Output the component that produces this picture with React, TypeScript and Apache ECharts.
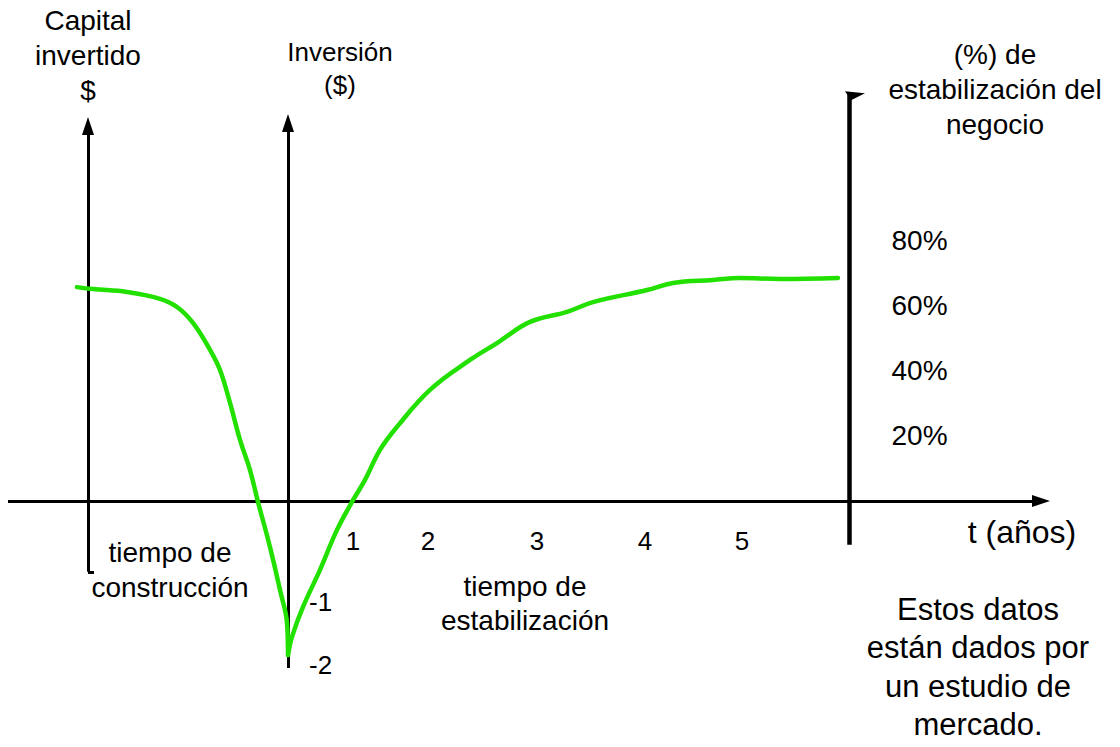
import React, { useEffect, useRef } from "react";
import * as echarts from "echarts";

// Curve during construction (x: time units, y: % scale)
const constructionCurve: [number, number][] = [
  [-2.11, 65.8], [-1.95, 65.2], [-1.61, 64.3], [-1.28, 62.2], [-1.11, 59.7],
  [-0.95, 54.8], [-0.78, 46.5], [-0.68, 40.3], [-0.58, 30.2], [-0.48, 18.8],
  [-0.38, 9.5], [-0.30, -0.3], [-0.18, -14.2], [-0.08, -27.4], [-0.01, -37.5],
  [0.0, -47.4],
];

// Curve during stabilization
const stabilizationCurve: [number, number][] = [
  [0.0, -47.4], [0.04, -41.8], [0.15, -32.6], [0.32, -21.2], [0.49, -8.9],
  [0.64, -0.3], [0.77, 6.5], [0.92, 15.7], [1.09, 22.8], [1.42, 34.2],
  [1.82, 43.4], [2.09, 48.6], [2.42, 55.1], [2.79, 58.2], [3.05, 61.2],
  [3.59, 64.9], [3.85, 67.1], [4.25, 68.0], [4.52, 68.6], [4.92, 68.3],
  [5.5, 68.6],
];

// x tick labels (years) and where they sit on the time scale
const xTickPositions = [0.65, 1.4, 2.49, 3.57, 4.54];
const xTickLabels = ["1", "2", "3", "4", "5"];

// percent axis ticks
const pctTickValues = [20, 40, 60, 80];

// investment axis ticks
const investTickValues = [-31.1, -50.5];
const investTickLabels = ["-1", "-2"];

// axes (drawn as lines in data coordinates)
const timeAxis: [number, number][] = [[-2.8, 0], [7.53, 0]];
const capitalAxis: [number, number][] = [[-2.0, -21.8], [-2.0, 115.4]];
const capitalFoot: [number, number][] = [[-2.0, -21.8], [-1.94, -21.8]];
const investAxis: [number, number][] = [[0.0, -51.4], [0.0, 116.3]];
const pctAxis: [number, number][] = [[5.615, -13.5], [5.615, 125.8]];

const X_MIN = -2.88;
const X_MAX = 8.32;
const Y_MIN = -75.7;
const Y_MAX = 154.15;

const FONT = "'Liberation Sans', Arial, sans-serif";
const GREEN = "#22e000";

export default function App() {
  const ref = useRef<HTMLDivElement>(null);

  useEffect(() => {
    if (!ref.current) return;
    const chart = echarts.init(ref.current, undefined, { renderer: "svg" });

    const arrowEnd = (p: [number, number]) => ({
      coord: p,
      symbol: "triangle",
      symbolSize: [12, 18],
    });
    const plain = (p: [number, number]) => ({ coord: p, symbol: "none" });

    const option: any = {
      animation: false,
      backgroundColor: "#ffffff",
      textStyle: { fontFamily: FONT, color: "#000" },
      grid: {
        left: 0,
        right: 0,
        top: 0,
        bottom: 0,
        containLabel: false,
        outerBoundsMode: "none",
      },
      xAxis: {
        type: "value",
        min: X_MIN,
        max: X_MAX,
        position: "bottom",
        offset: -246,
        axisLine: { show: false, onZero: false },
        axisTick: { show: false },
        splitLine: { show: false },
        axisLabel: {
          show: true,
          customValues: xTickPositions,
          formatter: (v: number) => {
            const i = xTickPositions.indexOf(v);
            return i >= 0 ? xTickLabels[i] : "";
          },
          margin: 27,
          fontSize: 26,
          color: "#000",
          fontFamily: FONT,
        },
      },
      yAxis: [
        {
          type: "value",
          min: Y_MIN,
          max: Y_MAX,
          position: "left",
          offset: -849.5,
          axisLine: { show: false, onZero: false },
          axisTick: { show: false },
          splitLine: { show: false },
          axisLabel: {
            show: true,
            inside: true,
            margin: 42,
            customValues: pctTickValues,
            formatter: "{value}%",
            fontSize: 28,
            color: "#000",
            fontFamily: FONT,
          },
        },
        {
          type: "value",
          min: Y_MIN,
          max: Y_MAX,
          position: "left",
          offset: -288,
          axisLine: { show: false, onZero: false },
          axisTick: { show: false },
          splitLine: { show: false },
          axisLabel: {
            show: true,
            inside: true,
            margin: 21,
            customValues: investTickValues,
            formatter: (v: number) => {
              const i = investTickValues.indexOf(v);
              return i >= 0 ? investTickLabels[i] : "";
            },
            fontSize: 26,
            color: "#000",
            fontFamily: FONT,
          },
        },
      ],
      series: [
        {
          type: "line",
          name: "axes",
          data: [],
          silent: true,
          markLine: {
            silent: true,
            symbol: ["none", "none"],
            label: { show: false },
            lineStyle: { color: "#000", width: 3, type: "solid" },
            emphasis: { disabled: true },
            data: [
              [plain(timeAxis[0]), arrowEnd(timeAxis[1])],
              [plain(capitalAxis[0]), arrowEnd(capitalAxis[1])],
              [plain(capitalFoot[0]), plain(capitalFoot[1])],
              [plain(investAxis[0]), arrowEnd(investAxis[1])],
              [
                { ...plain(pctAxis[0]), lineStyle: { width: 4.5 } },
                plain(pctAxis[1]),
              ],
            ],
          },
          markPoint: {
            silent: true,
            label: { show: false },
            data: [
              {
                coord: pctAxis[1],
                symbol: "path://M0,0L20,2L6,9Z",
                symbolSize: [20, 9],
                symbolOffset: [5.5, 3.5],
                itemStyle: { color: "#000" },
              },
            ],
          },
        },
        {
          type: "line",
          name: "construcción",
          data: constructionCurve,
          smooth: 0.4,
          showSymbol: false,
          symbol: "none",
          lineStyle: { color: GREEN, width: 4.5, cap: "round", join: "round" },
          silent: true,
          z: 5,
        },
        {
          type: "line",
          name: "estabilización",
          data: stabilizationCurve,
          smooth: 0.4,
          showSymbol: false,
          symbol: "none",
          lineStyle: { color: GREEN, width: 4.5, cap: "round", join: "round" },
          silent: true,
          z: 5,
        },
      ],
      graphic: [
        {
          type: "text",
          x: 88,
          y: 55,
          style: {
            text: "Capital\ninvertido\n$",
            align: "center",
            verticalAlign: "middle",
            fontSize: 28,
            lineHeight: 35,
            fontFamily: FONT,
            fill: "#000",
          },
        },
        {
          type: "text",
          x: 340,
          y: 68,
          style: {
            text: "Inversión\n($)",
            align: "center",
            verticalAlign: "middle",
            fontSize: 26,
            lineHeight: 33,
            fontFamily: FONT,
            fill: "#000",
          },
        },
        {
          type: "text",
          x: 995,
          y: 89,
          style: {
            text: "(%) de\nestabilización del\nnegocio",
            align: "center",
            verticalAlign: "middle",
            fontSize: 28,
            lineHeight: 35,
            fontFamily: FONT,
            fill: "#000",
          },
        },
        {
          type: "text",
          x: 170,
          y: 570,
          style: {
            text: "tiempo de\nconstrucción",
            align: "center",
            verticalAlign: "middle",
            fontSize: 28,
            lineHeight: 35,
            fontFamily: FONT,
            fill: "#000",
          },
        },
        {
          type: "text",
          x: 525,
          y: 603,
          style: {
            text: "tiempo de\nestabilización",
            align: "center",
            verticalAlign: "middle",
            fontSize: 28,
            lineHeight: 34,
            fontFamily: FONT,
            fill: "#000",
          },
        },
        {
          type: "text",
          x: 1022,
          y: 532,
          style: {
            text: "t (años)",
            align: "center",
            verticalAlign: "middle",
            fontSize: 32,
            fontFamily: FONT,
            fill: "#000",
          },
        },
        {
          type: "text",
          x: 978,
          y: 667,
          style: {
            text: "Estos datos\nestán dados por\nun estudio de\nmercado.",
            align: "center",
            verticalAlign: "middle",
            fontSize: 31,
            lineHeight: 38.5,
            fontFamily: FONT,
            fill: "#000",
          },
        },
      ],
    };

    chart.setOption(option);
    return () => chart.dispose();
  }, []);

  return (
    <div
      ref={ref}
      style={{
        position: "fixed",
        left: 0,
        top: 0,
        width: 1120,
        height: 747,
        background: "#fff",
      }}
    />
  );
}
